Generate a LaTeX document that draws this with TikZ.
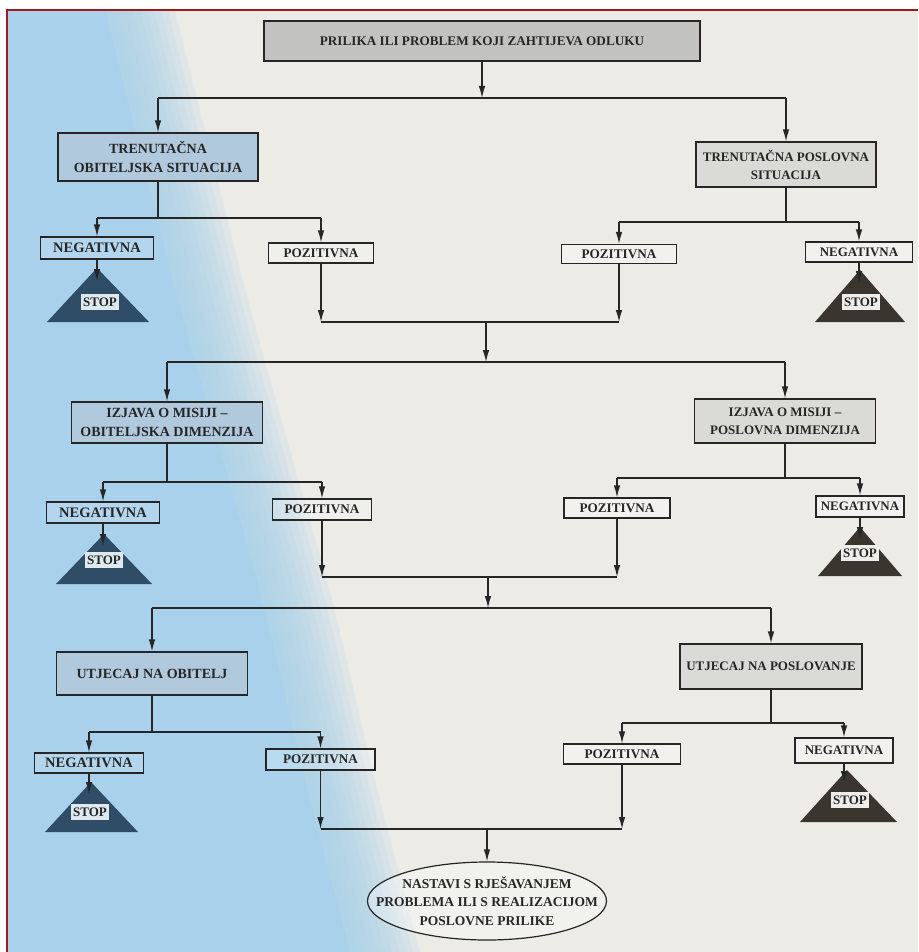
\documentclass[tikz,border=0pt]{standalone}
\usepackage{fontspec}
\setmainfont{Liberation Serif}
\usetikzlibrary{arrows.meta,shapes.geometric}
\definecolor{paper}{HTML}{ECEBE6}
\definecolor{sky}{HTML}{A9D1EC}
\definecolor{framered}{HTML}{A11A1A}
\definecolor{ink}{HTML}{262626}
\definecolor{topfill}{HTML}{C2C2C0}
\definecolor{lfill}{HTML}{B0C9DD}
\definecolor{rfill}{HTML}{DADAD7}
\definecolor{tril}{HTML}{2F4D66}
\definecolor{trir}{HTML}{3B3530}
\definecolor{labl}{HTML}{DDE8EF}
\definecolor{labr}{HTML}{EFEDE9}
\tikzset{
  box/.style={draw=ink, line width=1.2pt, align=center, inner sep=0pt, text=ink,
    font=\bfseries\fontsize{13.2}{18}\selectfont},
  topbox/.style={box, fill=topfill},
  lbox/.style={box, fill=lfill, font=\bfseries\fontsize{14}{19}\selectfont},
  rbox/.style={box, fill=rfill, font=\bfseries\fontsize{13}{18}\selectfont},
  negl/.style={box, fill=white, fill opacity=0.12, text opacity=1, font=\bfseries\fontsize{14.5}{18}\selectfont},
  negr/.style={box, fill=white, fill opacity=0.35, text opacity=1, font=\bfseries\fontsize{13}{18}\selectfont},
  pozl/.style={box, fill=white, fill opacity=0.2, text opacity=1},
  pozr/.style={box, fill=white, fill opacity=0.35, text opacity=1},
  stoplab/.style={inner sep=1pt, text=ink, font=\bfseries\fontsize{13}{14}\selectfont, minimum width=38, minimum height=16},
  conn/.style={draw=ink, line width=1.2pt},
  arr/.style={conn, -{Latex[length=12pt,width=6.5pt]}},
}
\begin{document}
\begin{tikzpicture}[x=1pt,y=-1pt]
\useasboundingbox (0,0) rectangle (918,952);
% background (photographed page)
\fill[white] (0,0) rectangle (918,952);
\fill[paper] (7,10) rectangle (918,952);
\fill[sky] (7,10) -- (105,10) -- plot[smooth] coordinates {(105,10) (140,150) (178,300) (220,450) (262,600) (305,780) (350,952)} -- (7,952) -- cycle;
\foreach \i in {1,...,10} {
  \fill[sky, opacity=0.17, xshift=\i*7] (0,10) -- (105,10) -- plot[smooth] coordinates {(105,10) (140,150) (178,300) (220,450) (262,600) (305,780) (350,952)} -- (0,952) -- cycle;
}
\draw[framered, line width=2pt] (7,952) -- (7,10) -- (918,10);

% ---------- nodes ----------
\node[topbox, minimum width=436, minimum height=40] (top) at (482,41) {PRILIKA ILI PROBLEM KOJI ZAHTIJEVA ODLUKU};

\node[lbox, minimum width=200, minimum height=48] (lb1) at (158,157) {TRENUTAČNA\\OBITELJSKA SITUACIJA};
\node[rbox, minimum width=180, minimum height=45] (rb1) at (786,164.5) {TRENUTAČNA POSLOVNA\\SITUACIJA};
\node[negl, minimum width=113, minimum height=22] (n1l) at (97,248) {NEGATIVNA};
\node[pozl, minimum width=105, minimum height=20] (p1l) at (321,253) {POZITIVNA};
\node[pozr, minimum width=115, minimum height=19] (p1r) at (619,254) {POZITIVNA};
\node[negr, minimum width=107, minimum height=20] (n1r) at (859,252) {NEGATIVNA};

\node[lbox, minimum width=191, minimum height=41] (lb2) at (167,422.5) {IZJAVA O MISIJI --\\OBITELJSKA DIMENZIJA};
\node[rbox, minimum width=181, minimum height=44] (rb2) at (785,421) {IZJAVA O MISIJI --\\POSLOVNA DIMENZIJA};
\node[negl, minimum width=113, minimum height=21] (n2l) at (103,512.5) {NEGATIVNA};
\node[pozl, minimum width=99, minimum height=21] (p2l) at (322,509.5) {POZITIVNA};
\node[pozr, minimum width=106, minimum height=20] (p2r) at (617,508) {POZITIVNA};
\node[negr, minimum width=88, minimum height=21] (n2r) at (860,506.5) {NEGATIVNA};

\node[lbox, minimum width=191, minimum height=43] (lb3) at (152,673.5) {UTJECAJ NA OBITELJ};
\node[rbox, minimum width=182, minimum height=45] (rb3) at (771,666.5) {UTJECAJ NA POSLOVANJE};
\node[negl, minimum width=109, minimum height=20] (n3l) at (89,763) {NEGATIVNA};
\node[pozl, minimum width=109, minimum height=21] (p3l) at (320.5,759.5) {POZITIVNA};
\node[pozr, minimum width=117, minimum height=20] (p3r) at (622,754) {POZITIVNA};
\node[negr, minimum width=98, minimum height=25] (n3r) at (844,750.5) {NEGATIVNA};

\node[ellipse, draw=ink, line width=1.2pt, fill=white, fill opacity=0.3, minimum width=239, minimum height=78] (end) at (487,901) {};
\node[align=center, text=ink, inner sep=0pt, font=\bfseries\fontsize{13.5}{18.5}\selectfont] (endtext) at (end.center) {NASTAVI S RJEŠAVANJEM\\PROBLEMA ILI S REALIZACIJOM\\POSLOVNE PRILIKE};

% ---------- STOP triangles ----------
\fill[tril] (97,268) -- (149,322) -- (47,322) -- cycle;
\fill[trir] (860,270) -- (905,322) -- (815,322) -- cycle;
\fill[tril] (104,534) -- (152,584) -- (56,584) -- cycle;
\fill[trir] (860,527) -- (902,576) -- (818,576) -- cycle;
\fill[tril] (91,782) -- (138,832) -- (45,832) -- cycle;
\fill[trir] (847,770) -- (897,822) -- (800,822) -- cycle;
\node[stoplab, fill=labl] (s1l) at (100,302) {STOP};
\node[stoplab, fill=labr] (s1r) at (861,302) {STOP};
\node[stoplab, fill=labl] (s2l) at (104,560) {STOP};
\node[stoplab, fill=labr] (s2r) at (860,553) {STOP};
\node[stoplab, fill=labl] (s3l) at (90,812) {STOP};
\node[stoplab, fill=labr] (s3r) at (850,800) {STOP};
\coordinate (t1l) at (97,281);
\coordinate (t1r) at (859,283);
\coordinate (t2l) at (103,546);
\coordinate (t2r) at (860,539);
\coordinate (t3l) at (89,794);
\coordinate (t3r) at (844,783);

% ---------- connectors ----------
% level 0 -> 1
\coordinate (h0) at (482,98);
\draw[arr] (top.south) -- (h0);
\draw[conn] (lb1.north |- h0) -- (rb1.north |- h0);
\draw[arr] (lb1.north |- h0) -- (lb1.north);
\draw[arr] (rb1.north |- h0) -- (rb1.north);
% level 1 branches
\coordinate (h1l) at (158,218);
\draw[conn] (lb1.south) -- (h1l);
\draw[conn] (n1l.north |- h1l) -- (p1l.north |- h1l);
\draw[arr] (n1l.north |- h1l) -- (n1l.north);
\draw[arr] (p1l.north |- h1l) -- (p1l.north);
\coordinate (h1r) at (786,222);
\draw[conn] (rb1.south) -- (h1r);
\draw[conn] (p1r.north |- h1r) -- (n1r.north |- h1r);
\draw[arr] (p1r.north |- h1r) -- (p1r.north);
\draw[arr] (n1r.north |- h1r) -- (n1r.north);
\draw[arr] (n1l.south) -- (t1l);
\draw[arr] (n1r.south) -- (t1r);
% merge 1
\coordinate (m1) at (486,322);
\draw[arr] (p1l.south) -- (p1l.south |- m1);
\draw[arr] (p1r.south) -- (p1r.south |- m1);
\draw[conn] (p1l.south |- m1) -- (p1r.south |- m1);
\coordinate (h2) at (486,362);
\draw[arr] (m1) -- (h2);
\draw[conn] (lb2.north |- h2) -- (rb2.north |- h2);
\draw[arr] (lb2.north |- h2) -- (lb2.north);
\draw[arr] (rb2.north |- h2) -- (rb2.north);
% level 2 branches
\coordinate (h2l) at (167,482);
\draw[conn] (lb2.south) -- (h2l);
\draw[conn] (n2l.north |- h2l) -- (p2l.north |- h2l);
\draw[arr] (n2l.north |- h2l) -- (n2l.north);
\draw[arr] (p2l.north |- h2l) -- (p2l.north);
\coordinate (h2r) at (785,478);
\draw[conn] (rb2.south) -- (h2r);
\draw[conn] (p2r.north |- h2r) -- (n2r.north |- h2r);
\draw[arr] (p2r.north |- h2r) -- (p2r.north);
\draw[arr] (n2r.north |- h2r) -- (n2r.north);
\draw[arr] (n2l.south) -- (t2l);
\draw[arr] (n2r.south) -- (t2r);
% merge 2
\coordinate (m2) at (488,577);
\draw[arr] (p2l.south) -- (p2l.south |- m2);
\draw[arr] (p2r.south) -- (p2r.south |- m2);
\draw[conn] (p2l.south |- m2) -- (p2r.south |- m2);
\coordinate (h3) at (488,608);
\draw[arr] (m2) -- (h3);
\draw[conn] (lb3.north |- h3) -- (rb3.north |- h3);
\draw[arr] (lb3.north |- h3) -- (lb3.north);
\draw[arr] (rb3.north |- h3) -- (rb3.north);
% level 3 branches
\coordinate (h3l) at (152,732);
\draw[conn] (lb3.south) -- (h3l);
\draw[conn] (n3l.north |- h3l) -- (p3l.north |- h3l);
\draw[arr] (n3l.north |- h3l) -- (n3l.north);
\draw[arr] (p3l.north |- h3l) -- (p3l.north);
\coordinate (h3r) at (771,723);
\draw[conn] (rb3.south) -- (h3r);
\draw[conn] (p3r.north |- h3r) -- (n3r.north |- h3r);
\draw[arr] (p3r.north |- h3r) -- (p3r.north);
\draw[arr] (n3r.north |- h3r) -- (n3r.north);
\draw[arr] (n3l.south) -- (t3l);
\draw[arr] (n3r.south) -- (t3r);
% merge 3
\coordinate (m3) at (487,829);
\draw[arr] (p3l.south) -- (p3l.south |- m3);
\draw[arr] (p3r.south) -- (p3r.south |- m3);
\draw[conn] (p3l.south |- m3) -- (p3r.south |- m3);
\draw[arr] (m3) -- (end.north);
\end{tikzpicture}
\end{document}
